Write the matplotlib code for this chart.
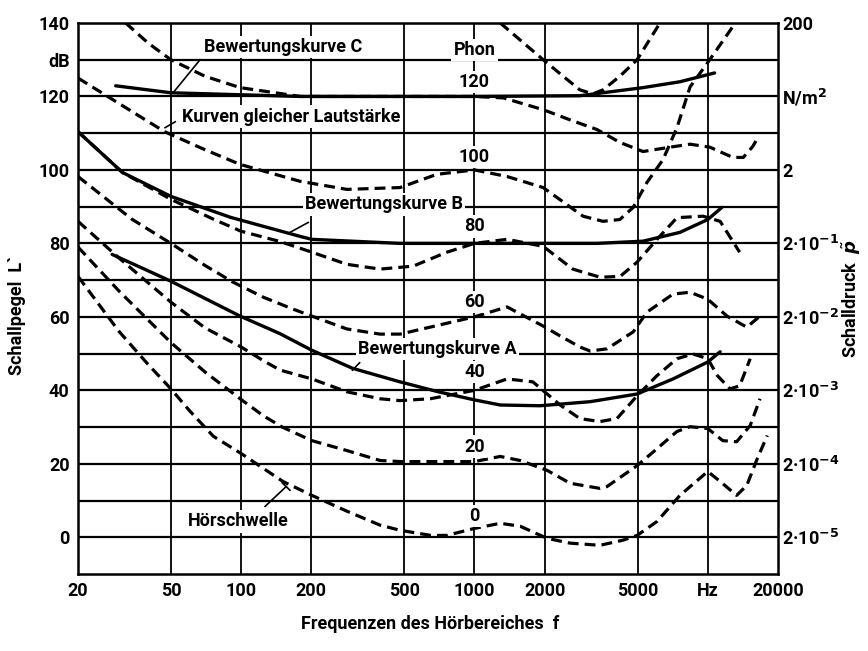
import numpy as np
import matplotlib.pyplot as plt

plt.rcParams['font.family'] = ['Roboto', 'DejaVu Sans']
plt.rcParams['font.weight'] = 'bold'
plt.rcParams['axes.labelweight'] = 'bold'

# Kurven gleicher Lautstaerke (f in Hz, L in dB)
phon120_f = [32, 40, 50, 70, 99, 140, 179, 300, 480, 1000, 1330, 1970, 2600, 3350, 4200, 5280, 6900, 8400, 10200, 12800, 14200, 15600, 16400]
phon120_L = [140, 134.5, 130, 125.5, 122.4, 121, 120, 120, 120, 120, 119.6, 116.4, 113.5, 111, 107.5, 105, 106.2, 107, 106.2, 103.4, 103.4, 106.4, 108.8]

top_f = [1290, 1970, 2400, 2830, 3220, 3560, 4200, 4980, 6240]
top_L = [140, 130, 125.5, 121.8, 120.7, 121.8, 125.5, 130, 140]

phon100_f = [20, 31, 47, 70, 99, 140, 179, 284, 480, 690, 1000, 1380, 1970, 2920, 3560, 4200, 4790, 5490, 6430, 7380, 8400, 10200, 12800]
phon100_L = [125, 117.5, 110.4, 105.5, 101.5, 98.8, 96.9, 94.7, 95.2, 98.8, 100, 98.2, 95.2, 87.4, 86, 86.5, 89.8, 96.6, 102.8, 111.5, 122.6, 130, 139]

phon80_f = [20, 31, 50, 76, 100, 147, 201, 284, 394, 546, 762, 1000, 1380, 1970, 2640, 3450, 4210, 4980, 6060, 7380, 9550, 11300, 13700]
phon80_L = [110.4, 99.3, 92, 86.6, 83.3, 80.5, 77.6, 74.3, 73, 73.8, 77.6, 80, 81.1, 79.2, 73, 70.8, 71, 74.9, 81.1, 87, 87.4, 86, 77.6]

phon60_f = [20, 34, 50, 70, 92, 125, 167, 201, 284, 394, 480, 646, 1000, 1380, 1970, 2330, 2830, 3130, 3700, 4790, 5490, 7100, 8400, 10000, 12100, 14700, 16750]
phon60_L = [98.2, 86.6, 80, 74, 69.5, 65.3, 62.1, 60.2, 56.7, 55.3, 55.3, 57.2, 60, 62.7, 57.5, 54.8, 51.8, 50.7, 51.3, 55.9, 61.3, 66.2, 66.7, 64.8, 60.2, 57.2, 60.2]

phon40_f = [20, 30, 50, 70, 100, 125, 147, 201, 284, 394, 480, 646, 1000, 1380, 1780, 2330, 2830, 3450, 4080, 4980, 6060, 7380, 8650, 10000, 11000, 12450, 13700, 15200]
phon40_L = [86, 76, 64, 57, 51.8, 48, 45.5, 43.1, 39.6, 37.7, 37.2, 37.7, 40, 43.1, 42.3, 36, 32.3, 31.5, 32.3, 38.5, 44, 48.6, 49.9, 48.6, 44, 40.4, 41.2, 48.6]

phon20_f = [20, 30, 50, 70, 100, 125, 150, 201, 284, 394, 480, 650, 1000, 1290, 1570, 2050, 2570, 3450, 3700, 4980, 6060, 7380, 8400, 10000, 11600, 13300, 15200, 16750]
phon20_L = [79, 67, 53, 45, 37.5, 33, 30, 26.3, 23.6, 20.9, 20.6, 20.6, 20.6, 22, 20.9, 18.2, 14.7, 13.3, 13.8, 19.5, 24.1, 28.8, 30.1, 29.6, 26.3, 26, 30.4, 37.7]

phon0_f = [20, 30, 40, 50, 60, 76, 100, 151, 201, 284, 394, 480, 650, 760, 1000, 1290, 1570, 2050, 2570, 3450, 4330, 4980, 6060, 7600, 10000, 11300, 13300, 14700, 16300, 18000]
phon0_L = [71, 56, 47, 40.4, 34.5, 27.5, 22.8, 15.2, 11.4, 7.1, 3.3, 1.9, 0.5, 0.5, 2.4, 3.8, 3, -0.3, -1.6, -2.2, -0.8, 0.5, 4.3, 11.4, 17.9, 15.2, 11.4, 14.1, 21.4, 27.7]

# Bewertungskurven
a_f = [28, 50, 99, 147, 201, 300, 480, 700, 1000, 1290, 1910, 3130, 4980, 7100, 10000, 11300]
a_L = [77, 69.7, 60.2, 55.4, 50.9, 46, 42.3, 39.6, 37.4, 36, 35.8, 36.9, 39, 43.1, 47.7, 50.5]

b_f = [20, 31, 50, 90, 179, 201, 480, 1000, 3350, 5280, 7600, 10000, 11500]
b_L = [110.4, 99.3, 92.8, 87.1, 81.9, 81.1, 80, 80, 80, 80.6, 83, 86.5, 89.8]

c_f = [29, 50, 179, 1000, 2830, 5280, 7600, 10700]
c_L = [122.9, 121, 120, 120, 120.2, 122.4, 124, 126.4]

phon_labels = ['Phon', '120', '100', '80', '60', '40', '20', '0']
phon_label_y = [132.7, 124, 103.6, 84.6, 64, 45, 24.7, 5.7]

x_ticks = [20, 50, 100, 200, 500, 1000, 2000, 5000, 10000, 20000]
x_labels = ['20', '50', '100', '200', '500', '1000', '2000', '5000', 'Hz', '20000']
y_ticks = [0, 20, 40, 60, 80, 100, 120, 130, 140]
y_labels = ['0', '20', '40', '60', '80', '100', '120', 'dB', '140']
p_ticks = [0, 20, 40, 60, 80, 100, 120, 140]
p_labels = ['2·10$^{-5}$', '2·10$^{-4}$', '2·10$^{-3}$', '2·10$^{-2}$',
            '2·10$^{-1}$', '2', 'N/m$^2$', '200']

fig = plt.figure(figsize=(8.68, 6.51), dpi=100)
ax = fig.add_axes([0.0899, 0.1183, 0.8064, 0.8464])
ax.set_xscale('log')
ax.set_xlim(20, 20000)
ax.set_ylim(-10, 140)

# Raster
for y in range(0, 141, 10):
    ax.axhline(y, color='black', lw=1.6, zorder=1)
for x in [50, 100, 200, 500, 1000, 2000, 5000, 10000]:
    ax.axvline(x, color='black', lw=1.3, zorder=1)

dash = (0, (3.4, 1.9))
for f, L in [(phon120_f, phon120_L), (top_f, top_L), (phon100_f, phon100_L),
             (phon80_f, phon80_L), (phon60_f, phon60_L), (phon40_f, phon40_L),
             (phon20_f, phon20_L), (phon0_f, phon0_L)]:
    ax.plot(f, L, color='black', lw=2.3, ls=dash, zorder=3)

for f, L in [(a_f, a_L), (b_f, b_L), (c_f, c_L)]:
    ax.plot(f, L, color='black', lw=2.4, solid_capstyle='round', zorder=3)

box = dict(facecolor='white', edgecolor='none', pad=1.5)
tk = dict(fontsize=13, color='black', zorder=5, bbox=box)

for s, y in zip(phon_labels, phon_label_y):
    ax.text(1000, y, s, ha='center', va='center', **tk)

ax.text(151, 133.5, 'Bewertungskurve C', ha='center', va='center', **tk)
ax.plot([66.7, 51.1], [130, 121], color='black', lw=1.2, zorder=4)
ax.text(55.8, 114.5, 'Kurven gleicher Lautstärke', ha='left', va='center', **tk)
ax.plot([52.2, 47.2], [113.1, 111.5], color='black', lw=1.2, zorder=4)
ax.text(188, 90.6, 'Bewertungskurve B', ha='left', va='center', **tk)
ax.plot([194, 162], [85.7, 83], color='black', lw=1.2, zorder=4)
ax.text(317, 51.3, 'Bewertungskurve A', ha='left', va='center', **tk)
ax.plot([322, 300], [47.5, 45.5], color='black', lw=1.2, zorder=4)
ax.text(59.2, 4.3, 'Hörschwelle', ha='left', va='center', **tk)
ax.plot([126.7, 156], [8.4, 13.8], color='black', lw=1.2, zorder=4)
ax.plot([150, 162], [14.8, 12.8], color='black', lw=1.2, zorder=4)

ax.set_xticks(x_ticks)
ax.set_xticklabels(x_labels, fontsize=13)
ax.minorticks_off()
ax.set_yticks(y_ticks)
ax.set_yticklabels(y_labels, fontsize=13)
ax.tick_params(length=0, pad=6)
for sp in ax.spines.values():
    sp.set_linewidth(1.8)

ax2 = ax.twinx()
ax2.set_ylim(-10, 140)
ax2.set_yticks(p_ticks)
ax2.set_yticklabels(p_labels, fontsize=13)
ax2.tick_params(length=0, pad=3)
for sp in ax2.spines.values():
    sp.set_visible(False)

ax.set_xlabel('Frequenzen des Hörbereiches  f', fontsize=13)
ax.xaxis.set_label_coords(0.503, -0.075)
ax.set_ylabel('Schallpegel  L`', fontsize=13)
ax.yaxis.set_label_coords(-0.075, 0.47)
ax2.set_ylabel('Schalldruck  $\\tilde{p}$', fontsize=13)
ax2.yaxis.set_label_coords(1.09, 0.5)

fig.savefig('out.png', dpi=100)
